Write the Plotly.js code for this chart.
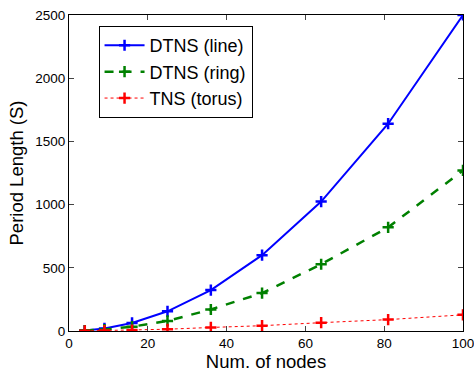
<!DOCTYPE html>
<html>
<head>
<meta charset="utf-8">
<script src="https://cdn.plot.ly/plotly-3.0.1.min.js"></script>
<style>html,body{margin:0;padding:0;background:#fff;}#chart{width:474px;height:372px;}</style>
</head>
<body>
<div id="chart"></div>
<script>
const nodes = [4, 9, 16, 25, 36, 49, 64, 81, 100];
const dtnsLine = [4, 20, 64, 156, 324, 600, 1024, 1640, 2500];
const dtnsRing = [3, 12, 34, 80, 170, 300, 528, 820, 1270];
const tnsTorus = [1, 4, 8, 14, 28, 42, 66, 90, 128];
const seriesNames = ["DTNS (line)", "DTNS (ring)", "TNS (torus)"];

const font = "Liberation Sans, Arial, sans-serif";
function tr(y, name, color, dash, width) {
  return {
    x: nodes, y: y, name: name, type: "scatter", mode: "lines+markers",
    line: {color: color, dash: dash, width: width},
    marker: {symbol: "cross-thin", size: 8, color: color, line: {color: color, width: 2.5}}
  };
}
const data = [
  tr(dtnsLine, seriesNames[0], "#0000ff", "solid", 2),
  tr(dtnsRing, seriesNames[1], "#008000", "dash", 2.5),
  tr(tnsTorus, seriesNames[2], "#ff0000", "dot", 1)
];
const layout = {
  width: 474, height: 372,
  margin: {l: 69, r: 11, t: 15, b: 41},
  paper_bgcolor: "#fff", plot_bgcolor: "#fff",
  font: {family: font, size: 13.5, color: "#000"},
  showlegend: true,
  legend: {x: 0.075, y: 0.965, xanchor: "left", yanchor: "top",
    bordercolor: "#000", borderwidth: 1, bgcolor: "#fff",
    font: {family: font, size: 18, color: "#000"}, tracegroupgap: 0, itemwidth: 40},
  xaxis: {range: [0, 100], tickvals: [0, 20, 40, 60, 80, 100], ticks: "inside", ticklen: 5,
    showline: true, mirror: "ticks", linecolor: "#000", linewidth: 1, showgrid: false, zeroline: false,
    tickfont: {size: 13.5}, ticklabeloverflow: "allow",
    title: {text: "Num. of nodes", font: {size: 18.5}, standoff: 0}},
  yaxis: {range: [0, 2500], tickvals: [0, 500, 1000, 1500, 2000, 2500], ticks: "inside", ticklen: 5,
    showline: true, mirror: "ticks", linecolor: "#000", linewidth: 1, showgrid: false, zeroline: false,
    tickfont: {size: 13.5}, ticklabeloverflow: "allow",
    title: {text: "Period Length (S)", font: {size: 18.5}, standoff: 6}}
};
Plotly.newPlot("chart", data, layout, {staticPlot: true});
</script>
</body>
</html>
